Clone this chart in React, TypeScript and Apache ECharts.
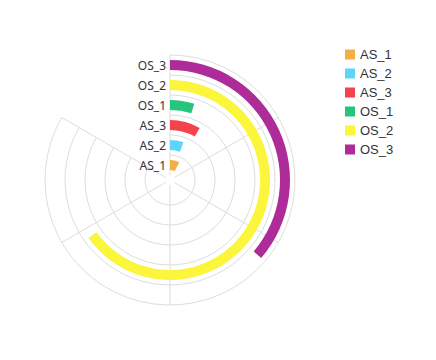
import React, { useEffect, useRef } from "react";
import * as echarts from "echarts";

const categories = ["AS_1", "AS_2", "AS_3", "OS_1", "OS_2", "OS_3"];
const values = [9.2, 6.5, 9.9, 5.9, 78.2, 43.5];
const colors = ["#F3AF44", "#5DD5F6", "#F4434C", "#26C57E", "#FBF53C", "#AE2C99"];
const angleMin = 0;
const angleMax = 100;

export default function App() {
  const ref = useRef<HTMLDivElement>(null);
  useEffect(() => {
    if (!ref.current) return;
    const chart = echarts.init(ref.current, undefined, { renderer: "svg" });
    const series: any[] = categories.map((name, i) => ({
      name,
      type: "bar",
      coordinateSystem: "polar",
      stack: "total",
      barWidth: 10,
      z: 3,
      itemStyle: { color: colors[i] },
      data: categories.map((_, j) => (j === i ? values[i] : "-")),
    }));
    // ring arcs at the outer boundary of each radius band (grid lines)
    series.push({
      type: "custom",
      name: "rings",
      coordinateSystem: "polar",
      silent: true,
      z: 1,
      data: categories.map((_, i) => [i, angleMin]),
      renderItem: (params: any, api: any) => {
        const cs = params.coordSys;
        const cx = cs.cx;
        const cy = cs.cy;
        const i = api.value(0);
        const dist = (p: number[]) => Math.hypot(p[0] - cx, p[1] - cy);
        const c0 = api.coord([0, angleMin]);
        const c1 = api.coord([1, angleMin]);
        const ci = api.coord([i, angleMin]);
        const band = dist(c1) - dist(c0);
        const r = dist(ci) + band / 2;
        const pEnd = api.coord([0, angleMax]);
        const start = Math.atan2(c0[1] - cy, c0[0] - cx);
        let end = Math.atan2(pEnd[1] - cy, pEnd[0] - cx);
        if (end <= start) end += Math.PI * 2;
        return {
          type: "arc",
          shape: { cx, cy, r, startAngle: start, endAngle: end, clockwise: true },
          style: { stroke: "#ddd", lineWidth: 1, fill: null },
        };
      },
    });
    chart.setOption({
      animation: false,
      color: colors,
      polar: { center: [162, 172], radius: [5, 125] },
      angleAxis: {
        type: "value",
        min: angleMin,
        max: angleMax,
        interval: 20,
        startAngle: 90,
        endAngle: -210,
        clockwise: true,
        axisLine: { show: false },
        axisTick: { show: false },
        axisLabel: { show: false },
        splitLine: { show: true, lineStyle: { color: "#ddd" } },
      },
      radiusAxis: {
        type: "category",
        data: categories,
        axisLine: { show: false },
        axisTick: { show: false },
        axisLabel: { color: "#333", fontSize: 12, margin: 4, interval: 0, fontFamily: "Noto Sans" },
        splitLine: { show: false },
        z: 10,
      },
      legend: {
        orient: "vertical",
        left: 332,
        top: 35,
        itemWidth: 10,
        itemHeight: 10,
        itemGap: 6,
        icon: "rect",
        textStyle: { color: "#333", fontSize: 13, fontFamily: "Liberation Sans, Arial, sans-serif" },
        data: categories,
      },
      series,
    });
    return () => chart.dispose();
  }, []);
  return <div ref={ref} style={{ width: 420, height: 344 }} />;
}
